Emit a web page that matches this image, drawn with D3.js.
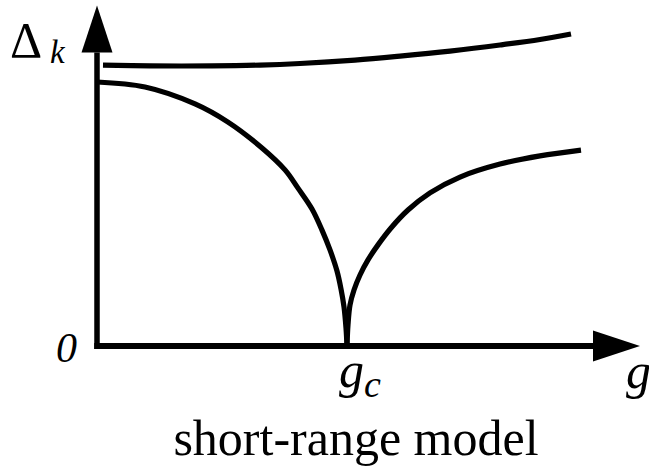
<!DOCTYPE html>
<html>
<head>
<meta charset="utf-8">
<script src="https://cdn.jsdelivr.net/npm/d3@7"></script>
<style>
  html, body { margin: 0; padding: 0; background: #fff; }
  svg { display: block; }
</style>
</head>
<body>
<svg id="chart" width="649" height="466"></svg>
<script>
// Gap Δ_k versus coupling g (gc = 1), short-range model sketch.
const gMax = 2.172;      // end of the g axis (arrow tip)
const deltaMax = 1.29;   // end of the Δ axis (arrow tip)

// Upper branch: gap stays finite across gc
const upperG     = [0.024, 0.212, 0.46, 0.652, 0.812, 1.032, 1.212, 1.412, 1.612, 1.772, 1.896];
const upperDelta = [1.064, 1.061, 1.061, 1.064, 1.070, 1.083, 1.098, 1.117, 1.140, 1.161, 1.182];

// Lower branch, g < gc: gap closes at gc
const leftG      = [0, 0.192, 0.392, 0.524, 0.66, 0.752, 0.804, 0.86, 0.9, 0.932, 0.96, 0.976, 0.988, 0.996, 1.0];
const leftDelta  = [1.0, 0.981, 0.917, 0.848, 0.750, 0.667, 0.598, 0.519, 0.439, 0.364, 0.284, 0.216, 0.148, 0.068, 0];

// Lower branch, g > gc: gap reopens
const rightG     = [1.0, 1.004, 1.012, 1.028, 1.052, 1.084, 1.124, 1.176, 1.244, 1.332, 1.452, 1.612, 1.772, 1.936];
const rightDelta = [0, 0.080, 0.155, 0.212, 0.269, 0.326, 0.383, 0.447, 0.515, 0.580, 0.640, 0.689, 0.720, 0.742];

const xTickLabels = ["0", "g", "c"];
const title = "short-range model";

const svg = d3.select("#chart");

const x = d3.scaleLinear().domain([0, 1]).range([97, 347]);
const y = d3.scaleLinear().domain([0, 1]).range([346, 82]);

const serif = "'Liberation Serif', 'Times New Roman', serif";

// Curves
const line = d3.line()
  .x(d => x(d[0]))
  .y(d => y(d[1]))
  .curve(d3.curveCatmullRom.alpha(0.5));

const zip = (a, b) => a.map((v, i) => [v, b[i]]);

[zip(upperG, upperDelta), zip(leftG, leftDelta), zip(rightG, rightDelta)].forEach(pts => {
  svg.append("path")
    .attr("d", line(pts))
    .attr("fill", "none")
    .attr("stroke", "#000")
    .attr("stroke-width", 5.2)
    .attr("stroke-linecap", "butt");
});

// Axes with filled arrowheads
const x0 = x(0), y0 = y(0);
const xEnd = x(gMax), yEnd = y(deltaMax);
const headLen = 47, headHalf = 15.5;

svg.append("line")
  .attr("x1", x0).attr("y1", y0 + 3)
  .attr("x2", x0).attr("y2", yEnd + headLen)
  .attr("stroke", "#000").attr("stroke-width", 5.5);
svg.append("path")
  .attr("d", `M${x0 - headHalf},${yEnd + headLen} L${x0 + headHalf},${yEnd + headLen} L${x0},${yEnd} Z`)
  .attr("fill", "#000");

svg.append("line")
  .attr("x1", x0 - 2.75).attr("y1", y0)
  .attr("x2", xEnd - headLen).attr("y2", y0)
  .attr("stroke", "#000").attr("stroke-width", 6);
svg.append("path")
  .attr("d", `M${xEnd - headLen},${y0 - headHalf} L${xEnd - headLen},${y0 + headHalf} L${xEnd},${y0} Z`)
  .attr("fill", "#000");

// Axis labels
svg.append("text")
  .attr("x", 10).attr("y", 57)
  .attr("font-family", serif).attr("font-size", 50)
  .text("Δ");
svg.append("text")
  .attr("x", 50).attr("y", 63)
  .attr("font-family", serif).attr("font-style", "italic").attr("font-size", 33)
  .text("k");

svg.append("text")
  .attr("x", x0 - 20).attr("y", 362)
  .attr("font-family", serif).attr("font-style", "italic").attr("font-size", 42)
  .attr("text-anchor", "end")
  .text(xTickLabels[0]);

const gc = svg.append("text")
  .attr("x", x(1) - 8).attr("y", 387)
  .attr("font-family", serif).attr("font-style", "italic").attr("font-size", 50);
gc.append("tspan").text(xTickLabels[1]);
gc.append("tspan").attr("font-size", 38).attr("dy", 10).text(xTickLabels[2]);

svg.append("text")
  .attr("x", 626).attr("y", 388)
  .attr("font-family", serif).attr("font-style", "italic").attr("font-size", 50)
  .text("g");

svg.append("text")
  .attr("x", 356).attr("y", 455)
  .attr("font-family", serif).attr("font-size", 50)
  .attr("text-anchor", "middle")
  .text(title);
</script>
</body>
</html>
